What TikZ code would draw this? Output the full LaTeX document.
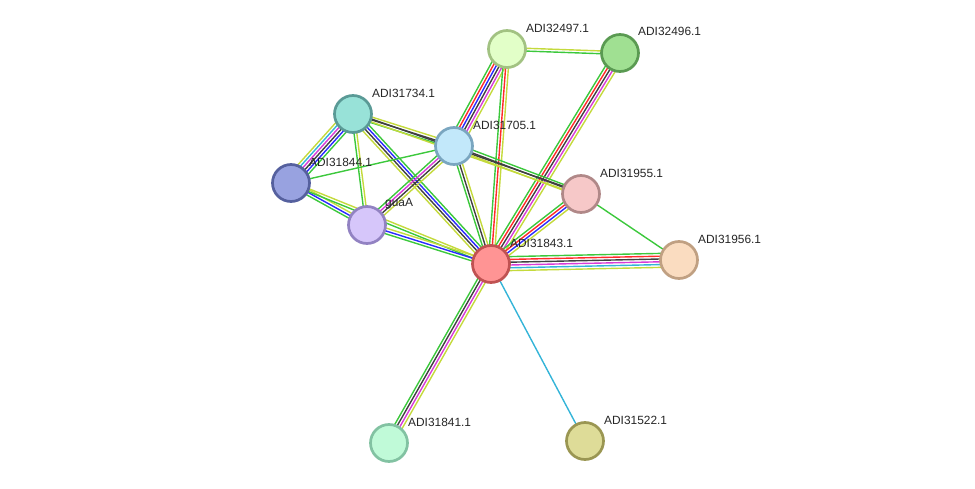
\documentclass[tikz,border=0pt]{standalone}
\usepackage{fontspec}
\setmainfont{Liberation Sans}
\usetikzlibrary{calc,backgrounds}
\definecolor{cg}{HTML}{3CC83C}
\definecolor{cy}{HTML}{C4DA3C}
\definecolor{cr}{HTML}{FF2A2A}
\definecolor{cb}{HTML}{2A2AFF}
\definecolor{ck}{HTML}{404040}
\definecolor{cm}{HTML}{D83CD8}
\definecolor{cc}{HTML}{34B4D8}
\definecolor{fA}{HTML}{E2FFC8}\definecolor{dA}{HTML}{A2C282}
\definecolor{fB}{HTML}{A0E092}\definecolor{dB}{HTML}{5A9A52}
\definecolor{fC}{HTML}{98E2D8}\definecolor{dC}{HTML}{5A9A96}
\definecolor{fD}{HTML}{C2E8FA}\definecolor{dD}{HTML}{7AA6C0}
\definecolor{fE}{HTML}{98A2E0}\definecolor{dE}{HTML}{55609E}
\definecolor{fF}{HTML}{F6C8C8}\definecolor{dF}{HTML}{B08888}
\definecolor{fG}{HTML}{D6C6FA}\definecolor{dG}{HTML}{9282C2}
\definecolor{fH}{HTML}{FF9494}\definecolor{dH}{HTML}{C05252}
\definecolor{fI}{HTML}{FADCC0}\definecolor{dI}{HTML}{C0A082}
\definecolor{fJ}{HTML}{C0FAD8}\definecolor{dJ}{HTML}{82C2A2}
\definecolor{fK}{HTML}{DEDC98}\definecolor{dK}{HTML}{9A9652}
\newcommand{\bund}[4]{%
  \foreach \c [count=\i] in {#4}{%
    \pgfmathsetmacro\off{((#3+1)/2-\i)*2.8}%
    \draw[edgeline, draw=\c] ($(#1)!\off pt!90:(#2)$) -- ($(#2)!\off pt!-90:(#1)$);%
  }%
}
\tikzset{
  prot/.style={circle, minimum size=37pt, inner sep=0pt, line width=2.7pt},
  lab/.style={anchor=west, inner sep=0pt, font=\fontsize{11.9}{14}\selectfont, text=black!85},
  edgeline/.style={line width=1.4pt},
}
\begin{document}
\begin{tikzpicture}[x=1pt,y=-1pt]
\useasboundingbox (0,0) rectangle (975,489);
\node[prot, fill=fA, draw=dA] (n32497) at (507,49) {};
\node[prot, fill=fB, draw=dB] (n32496) at (620,53) {};
\node[prot, fill=fC, draw=dC] (n31734) at (353,114) {};
\node[prot, fill=fD, draw=dD] (n31705) at (454,146) {};
\node[prot, fill=fE, draw=dE] (n31844) at (291,183) {};
\node[prot, fill=fF, draw=dF] (n31955) at (581,194) {};
\node[prot, fill=fG, draw=dG] (nguaA) at (367,225) {};
\node[prot, fill=fH, draw=dH] (n31843) at (491,264) {};
\node[prot, fill=fI, draw=dI] (n31956) at (679,260) {};
\node[prot, fill=fJ, draw=dJ] (n31841) at (389,443) {};
\node[prot, fill=fK, draw=dK] (n31522) at (585,441) {};
\begin{scope}[on background layer]
\bund{n32497}{n32496}{2}{cy,cg}
\bund{n32497}{n31705}{6}{cy,cm,ck,cb,cr,cg}
\bund{n32497}{n31843}{3}{cy,cr,cg}
\bund{n32496}{n31843}{5}{cy,cm,ck,cr,cg}
\bund{n31734}{n31844}{6}{cg,cb,ck,cm,cc,cy}
\bund{n31734}{n31705}{3}{cy,ck,cg}
\bund{n31734}{n31955}{2}{ck,cy}
\bund{n31734}{nguaA}{2}{cy,cg}
\bund{n31734}{n31843}{4}{cg,cb,ck,cy}
\bund{n31844}{n31705}{1}{cg}
\bund{n31844}{nguaA}{3}{cy,cb,cg}
\bund{n31844}{n31843}{2}{cy,cg}
\bund{nguaA}{n31705}{4}{cg,cm,ck,cy}
\bund{nguaA}{n31843}{3}{cy,cb,cg}
\bund{n31705}{n31955}{3}{cg,ck,cy}
\bund{n31705}{n31843}{3}{cy,ck,cg}
\bund{n31955}{n31843}{4}{cy,cb,cr,cg}
\bund{n31955}{n31956}{1}{cg}
\bund{n31843}{n31956}{6}{cg,cr,ck,cm,cc,cy}
\bund{n31843}{n31841}{4}{cy,cm,ck,cg}
\bund{n31843}{n31522}{1}{cc}
\end{scope}
\node[lab] (l32497) at (526,28) {ADI32497.1};
\node[lab] (l32496) at (638,31) {ADI32496.1};
\node[lab] (l31734) at (372,93) {ADI31734.1};
\node[lab] (l31705) at (473,125) {ADI31705.1};
\node[lab] (l31844) at (309,162) {ADI31844.1};
\node[lab] (l31955) at (600,173) {ADI31955.1};
\node[lab] (lguaA) at (385,204) {guaA};
\node[lab] (l31843) at (510,243) {ADI31843.1};
\node[lab] (l31956) at (698,239) {ADI31956.1};
\node[lab] (l31841) at (408,422) {ADI31841.1};
\node[lab] (l31522) at (604,420) {ADI31522.1};
\end{tikzpicture}
\end{document}
